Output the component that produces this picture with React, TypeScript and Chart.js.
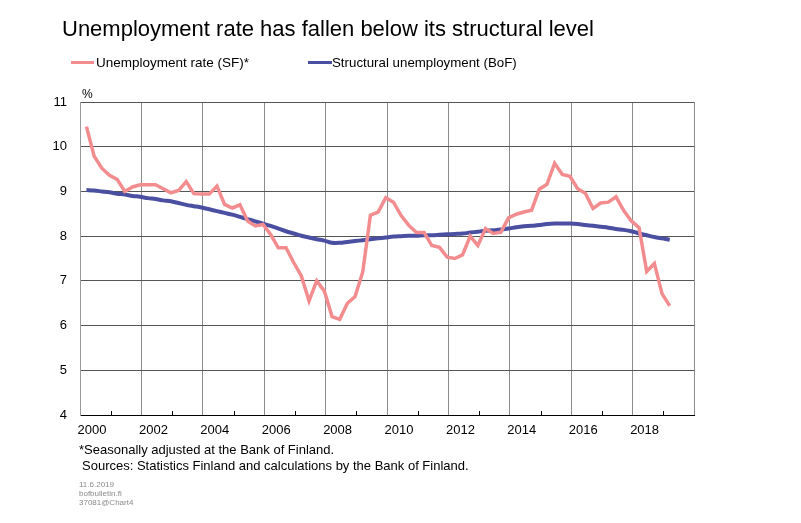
import { useEffect, useRef } from 'react';
import { Chart, registerables } from 'chart.js';

Chart.register(...registerables);

// quarterly observations, 2000Q1 .. 2019Q1
const firstYear = 2000;
const unemploymentRate = [
  10.45, 9.79, 9.52, 9.36, 9.27, 9.0, 9.1, 9.15,
  9.15, 9.15, 9.06, 8.97, 9.02, 9.22, 8.95, 8.94,
  8.94, 9.12, 8.71, 8.63, 8.7, 8.34, 8.23, 8.26,
  8.04, 7.74, 7.74, 7.41, 7.11, 6.55, 7.0, 6.77,
  6.2, 6.14, 6.5, 6.65, 7.2, 8.47, 8.54, 8.86,
  8.76, 8.46, 8.24, 8.08, 8.08, 7.79, 7.75, 7.53,
  7.5, 7.58, 8.0, 7.79, 8.17, 8.06, 8.09, 8.41,
  8.49, 8.54, 8.58, 9.05, 9.16, 9.63, 9.38, 9.34,
  9.06, 8.96, 8.62, 8.74, 8.76, 8.88, 8.57, 8.34,
  8.19, 7.21, 7.39, 6.71, 6.44,
];
const structural = [
  9.03, 9.02, 9.0, 8.98, 8.95, 8.93, 8.9, 8.88,
  8.85, 8.83, 8.8, 8.78, 8.74, 8.7, 8.67, 8.64,
  8.6, 8.56, 8.52, 8.48, 8.43, 8.38, 8.33, 8.28,
  8.23, 8.17, 8.11, 8.06, 8.01, 7.97, 7.93, 7.9,
  7.85, 7.85, 7.87, 7.89, 7.91, 7.93, 7.95, 7.97,
  7.99, 8.0, 8.01, 8.01, 8.02, 8.02, 8.03, 8.04,
  8.05, 8.06, 8.08, 8.1, 8.12, 8.13, 8.15, 8.17,
  8.2, 8.22, 8.23, 8.25, 8.27, 8.28, 8.28, 8.28,
  8.27, 8.25, 8.23, 8.21, 8.19, 8.16, 8.14, 8.11,
  8.06, 8.02, 7.98, 7.95, 7.92,
];
const gridYears = [2000, 2002, 2004, 2006, 2008, 2010, 2012, 2014, 2016, 2018, 2020];
const yearLabels = ['2000', '2002', '2004', '2006', '2008', '2010', '2012', '2014', '2016', '2018', ''];
const minorYears = [2001, 2003, 2005, 2007, 2009, 2011, 2013, 2015, 2017, 2019];

const FONT = 'Arial, "Liberation Sans", sans-serif';
const RED = '#F28C8F';
const BLUE = '#4B4FA1';

// quarter index -> position on the year axis
const quarterX = (i: number) => firstYear + i / 4 + 0.21;

const minorTicks = {
  id: 'minorTicks',
  afterDraw(chart: Chart) {
    const { ctx, chartArea, scales } = chart;
    ctx.save();
    ctx.strokeStyle = '#000';
    ctx.lineWidth = 1;
    minorYears.forEach((yr) => {
      const x = Math.round(scales.x.getPixelForValue(yr)) + 0.5;
      ctx.beginPath();
      ctx.moveTo(x, chartArea.bottom);
      ctx.lineTo(x, chartArea.bottom - 4);
      ctx.stroke();
    });
    ctx.restore();
  },
};

export default function App() {
  const canvasRef = useRef<HTMLCanvasElement>(null);

  useEffect(() => {
    if (!canvasRef.current) return;
    const chart = new Chart(canvasRef.current, {
      type: 'line',
      data: {
        datasets: [
          {
            label: 'Unemployment rate (SF)*',
            data: unemploymentRate.map((v, i) => ({ x: quarterX(i), y: v })),
            borderColor: RED,
            borderWidth: 3.5,
            pointRadius: 0,
            tension: 0,
          },
          {
            label: 'Structural unemployment (BoF)',
            data: structural.map((v, i) => ({ x: quarterX(i), y: v })),
            borderColor: BLUE,
            borderWidth: 4,
            pointRadius: 0,
            tension: 0.3,
          },
        ],
      },
      options: {
        responsive: false,
        animation: false,
        layout: { padding: { top: 102, left: 0, right: 107, bottom: 0 } },
        plugins: { legend: { display: false }, tooltip: { enabled: false } },
        scales: {
          x: {
            type: 'linear',
            min: 2000,
            max: 2020,
            afterFit: (s: any) => { s.height = 108; },
            afterBuildTicks: (s: any) => { s.ticks = gridYears.map((v) => ({ value: v })); },
            ticks: {
              callback: (_v: any, i: number) => yearLabels[i],
              font: { family: FONT, size: 13 },
              color: '#000',
              padding: 8,
              labelOffset: 12,
              maxRotation: 0,
              autoSkip: false,
            },
            grid: { color: '#8c8c8c', drawTicks: false, lineWidth: 1 },
            border: { color: '#000', width: 1 },
          },
          y: {
            min: 4,
            max: 11,
            afterFit: (s: any) => { s.width = 80; },
            ticks: {
              stepSize: 1,
              font: { family: FONT, size: 13 },
              color: '#000',
              padding: 13,
            },
            grid: { color: '#555', drawTicks: false, lineWidth: 1 },
            border: { color: '#999', width: 1 },
          },
        },
      },
      plugins: [minorTicks],
    });
    return () => chart.destroy();
  }, []);

  const txt = (top: number, left: number, size: number, extra: any = {}) => ({
    position: 'absolute' as const,
    top,
    left,
    fontSize: size,
    lineHeight: `${size}px`,
    fontFamily: FONT,
    color: '#000',
    whiteSpace: 'nowrap' as const,
    ...extra,
  });

  return (
    <div style={{ position: 'fixed', left: 0, top: 0, width: 801, height: 523, background: '#fff' }}>
      <canvas ref={canvasRef} width={801} height={523} style={{ position: 'absolute', left: 0, top: 0 }} />
      <div style={txt(18, 62, 22)}>Unemployment rate has fallen below its structural level</div>
      <div style={{ position: 'absolute', left: 71, top: 61, width: 23, height: 3, background: RED }} />
      <div style={txt(56, 96, 13.5)}>Unemployment rate (SF)*</div>
      <div style={{ position: 'absolute', left: 308, top: 61, width: 24, height: 3, background: BLUE }} />
      <div style={txt(56, 332, 13.3)}>Structural unemployment (BoF)</div>
      <div style={txt(88, 82, 12)}>%</div>
      <div style={txt(443, 79, 13)}>*Seasonally adjusted at the Bank of Finland.</div>
      <div style={txt(459, 82, 13)}>Sources: Statistics Finland and calculations by the Bank of Finland.</div>
      <div style={txt(480, 79, 8, { color: '#8a8a8a', lineHeight: '9px' })}>
        11.6.2019<br />bofbulletin.fi<br />37081@Chart4
      </div>
    </div>
  );
}
